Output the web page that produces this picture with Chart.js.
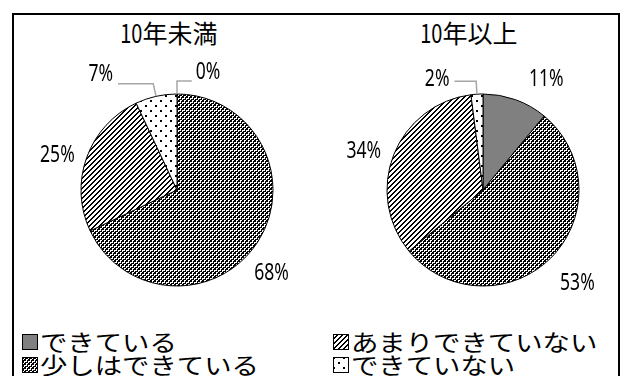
<!DOCTYPE html>
<html lang="ja">
<head>
<meta charset="utf-8">
<script src="https://cdn.jsdelivr.net/npm/chart.js@4.4.1/dist/chart.umd.min.js"></script>
<style>
  html, body { margin: 0; padding: 0; background: #fff; }
  #stage {
    position: relative; width: 626px; height: 376px; overflow: hidden; background: #fff;
    font-family: "Noto Sans CJK JP", sans-serif; color: #000;
  }
  #frame { position: absolute; left: 12px; top: 13px; width: 604px; height: 400px; border: 2px solid #000; }
  .pie { position: absolute; top: 50px; }
  .title { position: absolute; top: 16px; font-size: 25px; line-height: 32px; transform: translateX(-50%); white-space: nowrap; }
  .title .num { display: inline-block; transform: scaleX(0.8); transform-origin: right center; margin-left: -4px; }
  .legend-item { position: absolute; font-size: 23px; line-height: 23px; white-space: nowrap; display: flex; align-items: center; }
  .legend-item canvas { margin-right: 2px; }
  .legend-item span { display: inline-block; transform: scaleX(1.19); transform-origin: left center; }
</style>
</head>
<body>
<div id="stage">
  <div id="frame"></div>
  <div class="title" id="title0" style="left:168px"></div>
  <div class="title" id="title1" style="left:468px"></div>
  <canvas id="pie0" class="pie" width="300" height="260" style="left:20px"></canvas>
  <canvas id="pie1" class="pie" width="300" height="260" style="left:326px"></canvas>
  <div id="legend"></div>
</div>
<script>
const groups = ['10年未満', '10年以上'];
const categories = ['できている', '少しはできている', 'あまりできていない', 'できていない'];
const under10 = [0, 68, 25, 7];
const over10 = [11, 53, 34, 2];

// small bitmap tiles used as fill patterns
function tile(w, h, paint) {
  const c = document.createElement('canvas');
  c.width = w; c.height = h;
  const g = c.getContext('2d');
  g.fillStyle = '#fff';
  g.fillRect(0, 0, w, h);
  g.fillStyle = '#000';
  for (let y = 0; y < h; y++) {
    for (let x = 0; x < w; x++) {
      if (paint(x, y)) g.fillRect(x, y, 1, 1);
    }
  }
  return g.createPattern(c, 'repeat');
}

// 2px checker, white specks in the dark cells, a dot in each light cell
const checker = tile(8, 8, (x, y) =>
  (Math.floor(x / 2) + Math.floor(y / 2)) % 2 === 0
    ? !(x % 4 === 0 && y % 4 === 0)
    : (x % 2 === 1 && y % 2 === 1));
const hatch = tile(5, 5, (x, y) => (x + y) % 5 === 4 || (x + y) % 5 === 0);
const dots = tile(10, 10, (x, y) => (x <= 1 && y <= 1) || (x >= 5 && x <= 6 && y >= 5 && y <= 6));
const fills = ['#808080', checker, hatch, dots];

const sliceLabels = {
  id: 'sliceLabels',
  afterDatasetsDraw(chart, args, opts) {
    const ctx = chart.ctx;
    const values = chart.data.datasets[0].data;
    chart.getDatasetMeta(0).data.forEach((arc, i) => {
      const { x, y, startAngle, endAngle, outerRadius } =
        arc.getProps(['x', 'y', 'startAngle', 'endAngle', 'outerRadius'], true);
      const mid = (startAngle + endAngle) / 2;
      const nudge = opts.nudges[i] || [0, 0];
      const lx = x + Math.cos(mid) * (outerRadius + opts.distance) + nudge[0];
      const ly = y + Math.sin(mid) * (outerRadius + opts.distance) + nudge[1];
      const text = values[i] + '%';
      ctx.save();
      ctx.font = opts.font;
      const half = ctx.measureText(text).width * opts.squeeze / 2;
      if (opts.leaders.includes(i)) {
        const ex = x + Math.cos(mid) * (outerRadius + 13);
        const ey = y + Math.sin(mid) * (outerRadius + 13);
        const endX = lx < ex ? lx + half + 5 : lx - half - 4;
        ctx.strokeStyle = '#a6a6a6';
        ctx.lineWidth = 1.5;
        ctx.beginPath();
        ctx.moveTo(x + Math.cos(mid) * outerRadius, y + Math.sin(mid) * outerRadius);
        ctx.lineTo(ex, ey);
        ctx.lineTo(endX, ey);
        ctx.stroke();
      }
      // narrow figures
      ctx.translate(lx, ly);
      ctx.scale(opts.squeeze, 1);
      ctx.fillStyle = '#000';
      ctx.textAlign = 'center';
      ctx.textBaseline = 'middle';
      ctx.fillText(text, 0, 0);
      ctx.restore();
    });
  }
};

function drawPie(id, values, nudges, leaders) {
  return new Chart(document.getElementById(id), {
    type: 'pie',
    data: {
      labels: categories,
      datasets: [{ data: values, backgroundColor: fills, borderColor: '#000', borderWidth: 1, radius: 96 }]
    },
    options: {
      responsive: false,
      animation: false,
      events: [],
      devicePixelRatio: 1,
      layout: { padding: { left: 61, right: 47, top: 44, bottom: 24 } },
      plugins: {
        legend: { display: false },
        tooltip: { enabled: false },
        sliceLabels: {
          font: '24px "Noto Sans", sans-serif',
          squeeze: 0.73,
          distance: 29,
          nudges,
          leaders
        }
      }
    },
    plugins: [sliceLabels]
  });
}

drawPie('pie0', under10, [[31, 7], [-11, 16], [-2, 7], [-49, 6]], [0, 3]);
drawPie('pie1', over10, [[21, 7], [6, 5], [-3, 7], [-38, 14]], [3]);

// titles: leading figures drawn narrow
groups.forEach((g, i) => {
  const el = document.getElementById('title' + i);
  const m = g.match(/^(\d+)(.*)$/);
  const num = document.createElement('span');
  num.className = 'num';
  num.textContent = m[1];
  el.appendChild(num);
  el.appendChild(document.createTextNode(m[2]));
});

// two-column legend: left column holds the first two categories
const legend = document.getElementById('legend');
const slots = [[22, 330], [22, 353], [333, 330], [333, 353]];
categories.forEach((name, k) => {
  const item = document.createElement('div');
  item.className = 'legend-item';
  item.style.left = slots[k][0] + 'px';
  item.style.top = slots[k][1] + 'px';
  const sw = document.createElement('canvas');
  sw.width = 16; sw.height = 16;
  const g = sw.getContext('2d');
  g.fillStyle = fills[k];
  g.fillRect(0, 0, 16, 16);
  g.strokeStyle = '#000';
  g.lineWidth = 1;
  g.strokeRect(0.5, 0.5, 15, 15);
  const label = document.createElement('span');
  label.textContent = name;
  item.appendChild(sw);
  item.appendChild(label);
  legend.appendChild(item);
});
</script>
</body>
</html>
